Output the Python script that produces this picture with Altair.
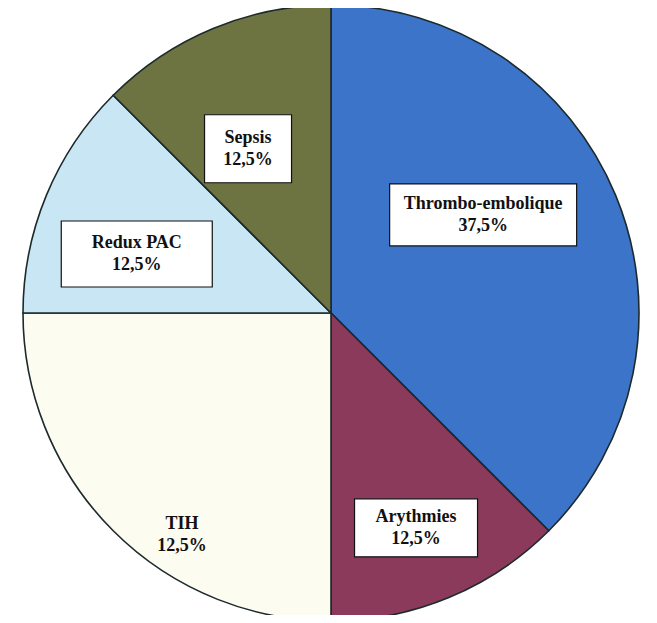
import altair as alt
import pandas as pd

# ---- data ----
categories = ["Thrombo-embolique", "Arythmies", "TIH", "Redux PAC", "Sepsis"]
values = [37.5, 12.5, 25.0, 12.5, 12.5]          # slice sizes as drawn
label_pcts = ["37,5%", "12,5%", "12,5%", "12,5%", "12,5%"]  # printed labels
colors = ["#3b74c9", "#8b3a5b", "#fdfcf1", "#c8e6f4", "#6e7441"]

# ---- label layout (not data) ----
label_radius = [181, 231, 267, 203, 184]
label_shift_deg = [-10.3, 0.9, -11.1, -5.6, -4.3]
box_w = [187, 123, 0, 151, 87]
box_h = [62, 58, 0, 66, 68]
has_box = [1, 1, 0, 1, 1]

CX, CY, R = 323, 305, 308

df = pd.DataFrame({
    "idx": list(range(len(categories))),
    "cat": categories,
    "value": values,
    "label": [f"{c}\n{p}" for c, p in zip(categories, label_pcts)],
    "lr": label_radius,
    "shift": label_shift_deg,
    "bw": box_w,
    "bh": box_h,
    "box": has_box,
})

base = alt.Chart(df)

pie = base.mark_arc(radius=R, stroke="#1d2a2c", strokeWidth=1.6).encode(
    theta=alt.Theta("value:Q", stack=True),
    color=alt.Color("cat:N", scale=alt.Scale(domain=categories, range=colors), legend=None),
    order=alt.Order("idx:Q"),
    x=alt.value(CX),
    y=alt.value(CY),
)

pos = base.transform_joinaggregate(total="sum(value)").transform_window(
    cum="sum(value)", sort=[alt.SortField("idx")], frame=[None, 0]
).transform_calculate(
    ang="(datum.cum - datum.value/2)/datum.total*2*PI + datum.shift*PI/180"
).transform_calculate(
    px=f"{CX} + datum.lr*sin(datum.ang)",
    py=f"{CY} - datum.lr*cos(datum.ang)",
).transform_calculate(
    x1="datum.px - datum.bw/2",
    x2="datum.px + datum.bw/2",
    y1="datum.py - datum.bh/2",
    y2="datum.py + datum.bh/2",
)

boxes = pos.transform_filter("datum.box == 1").mark_rect(
    fill="white", stroke="#111111", strokeWidth=1.2
).encode(
    x=alt.X("x1:Q", scale=None, axis=None),
    x2="x2:Q",
    y=alt.Y("y1:Q", scale=None, axis=None),
    y2="y2:Q",
)

texts = pos.mark_text(
    font="Liberation Serif, Times New Roman, serif", fontSize=18, fontWeight="bold",
    color="#111111", lineBreak="\n", lineHeight=22, align="center",
    baseline="middle", dy=-11,
).encode(
    x=alt.X("px:Q", scale=None, axis=None),
    y=alt.Y("py:Q", scale=None, axis=None),
    text="label:N",
)

chart = alt.layer(pie, boxes, texts).properties(
    width=641, height=607, padding=0, autosize=alt.AutoSizeParams(type="none")
).configure_view(stroke=None)

chart.save("out.html", embed_options={"renderer": "svg", "actions": False})
